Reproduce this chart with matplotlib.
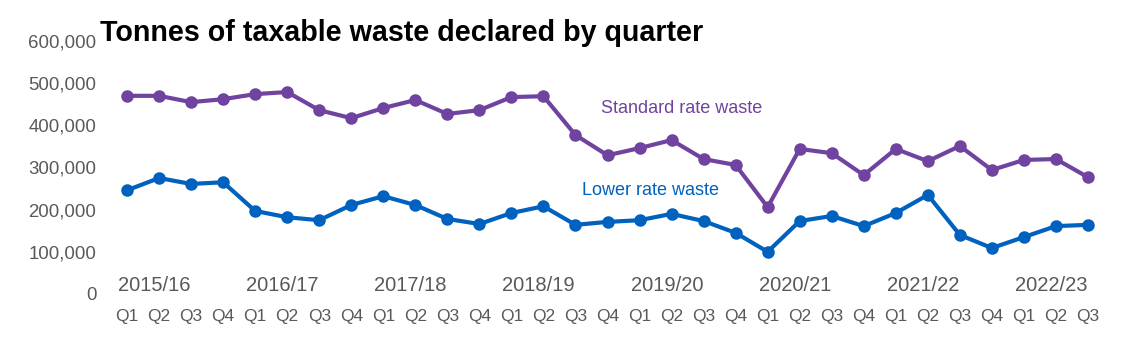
import matplotlib
matplotlib.use("Agg")
import matplotlib.pyplot as plt

plt.rcParams['font.family'] = ['Liberation Sans', 'DejaVu Sans']

years = ["2015/16", "2016/17", "2017/18", "2018/19", "2019/20", "2020/21", "2021/22", "2022/23"]
quarters = ["Q1", "Q2", "Q3", "Q4"] * 7 + ["Q1", "Q2", "Q3"]

standard = [470000, 470000, 455000, 462000, 474000, 479000, 436000, 417000,
            441000, 460000, 427000, 436000, 467000, 469000, 377000, 329000,
            346000, 365000, 320000, 306000, 206000, 344000, 334000, 282000,
            344000, 315000, 351000, 294000, 318000, 320000, 277000]
lower = [246000, 275000, 261000, 265000, 197000, 182000, 175000, 211000,
         232000, 211000, 178000, 166000, 192000, 208000, 164000, 171000,
         175000, 190000, 173000, 145000, 100000, 173000, 185000, 161000,
         192000, 235000, 140000, 109000, 135000, 161000, 164000]
yticks = [0, 100000, 200000, 300000, 400000, 500000, 600000]

purple = "#7043A0"
blue = "#0061BF"
grey = "#595959"

fig = plt.figure(figsize=(11.27, 3.64), dpi=100)
ax = fig.add_axes([111/1127, 70/364, (1104-111)/1127, (294-41)/364])

x = list(range(len(quarters)))
ax.plot(x, standard, color=purple, lw=3, marker='o', ms=8, solid_joinstyle='round')
ax.plot(x, lower, color=blue, lw=3, marker='o', ms=8, solid_joinstyle='round')

ax.set_xlim(-0.5, len(quarters) - 0.5)
ax.set_ylim(0, 600000)
ax.set_xticks(x)
ax.set_xticklabels(quarters, fontsize=12.5, color=grey)
ax.set_yticks(yticks)
ax.set_yticklabels([f"{v:,}" for v in yticks], fontsize=13.4, color=grey)
ax.tick_params(axis='both', length=0)
ax.tick_params(axis='x', pad=10.5)
ax.tick_params(axis='y', pad=10.5)
for s in ax.spines.values():
    s.set_visible(False)

for i, yr in enumerate(years):
    ax.text(i * 4 + 0.85, 19000, yr, ha='center', va='center', fontsize=14.5, color=grey)

ax.text(17.3, 441000, "Standard rate waste", ha='center', va='center', fontsize=13, color=purple)
ax.text(16.35, 246000, "Lower rate waste", ha='center', va='center', fontsize=13, color=blue)

fig.text(100/1127, 1 - 33/364, "Tonnes of taxable waste declared by quarter",
         ha='left', va='center', fontsize=20.6, fontweight='bold', color='black')

fig.savefig("out.png", dpi=100)
